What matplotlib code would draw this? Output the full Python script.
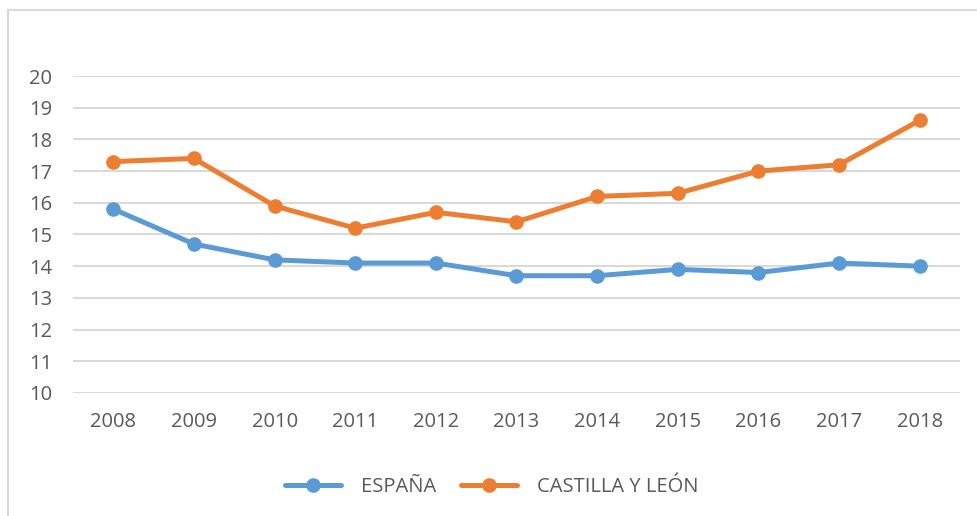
import matplotlib
matplotlib.use('Agg')
import matplotlib.pyplot as plt
from matplotlib.patches import Rectangle

years = ['2008', '2009', '2010', '2011', '2012', '2013', '2014', '2015', '2016', '2017', '2018']
espana = [15.8, 14.7, 14.2, 14.1, 14.1, 13.7, 13.7, 13.9, 13.8, 14.1, 14.0]
castilla = [17.3, 17.4, 15.9, 15.2, 15.7, 15.4, 16.2, 16.3, 17.0, 17.2, 18.6]

BLUE = '#5b9bd5'
ORANGE = '#ed7d31'
TEXT = '#595959'
GRID = '#d9d9d9'

plt.rcParams['font.family'] = ['Open Sans', 'DejaVu Sans']

fig = plt.figure(figsize=(9.78, 5.16), dpi=100)
W, H = 978, 516
ax = fig.add_axes([73 / W, 1 - 393 / H, (960 - 73) / W, (393 - 76) / H])

# outer chart frame
fig.patches.append(Rectangle((8 / W, -0.1), 1.2, 1 - 10 / H + 0.1,
                             transform=fig.transFigure, fill=False,
                             edgecolor=GRID, linewidth=1.5))

x = list(range(len(years)))
ax.plot(x, espana, color=BLUE, lw=3.6, marker='o', ms=9.5, label='ESPAÑA', solid_capstyle='round')
ax.plot(x, castilla, color=ORANGE, lw=3.6, marker='o', ms=9.5, label='CASTILLA Y LEÓN', solid_capstyle='round')

ax.set_xlim(-0.5, len(years) - 0.5)
ax.set_ylim(10, 20)
ax.set_yticks(range(10, 21))
ax.set_xticks(x)
ax.set_xticklabels(years)
ax.grid(axis='y', color=GRID, lw=1.5)
ax.set_axisbelow(True)
for s in ax.spines.values():
    s.set_visible(False)
ax.tick_params(length=0, labelsize=14.5, colors=TEXT)
ax.tick_params(axis='y', pad=15)
ax.tick_params(axis='x', pad=14)

leg = fig.legend(loc='center', bbox_to_anchor=(0.503, 1 - 487 / H), ncol=2, frameon=False,
                 fontsize=14.5, handlelength=2.8, columnspacing=1.2, handletextpad=1.0)
for t in leg.get_texts():
    t.set_color(TEXT)

fig.savefig('out.png', dpi=100)
